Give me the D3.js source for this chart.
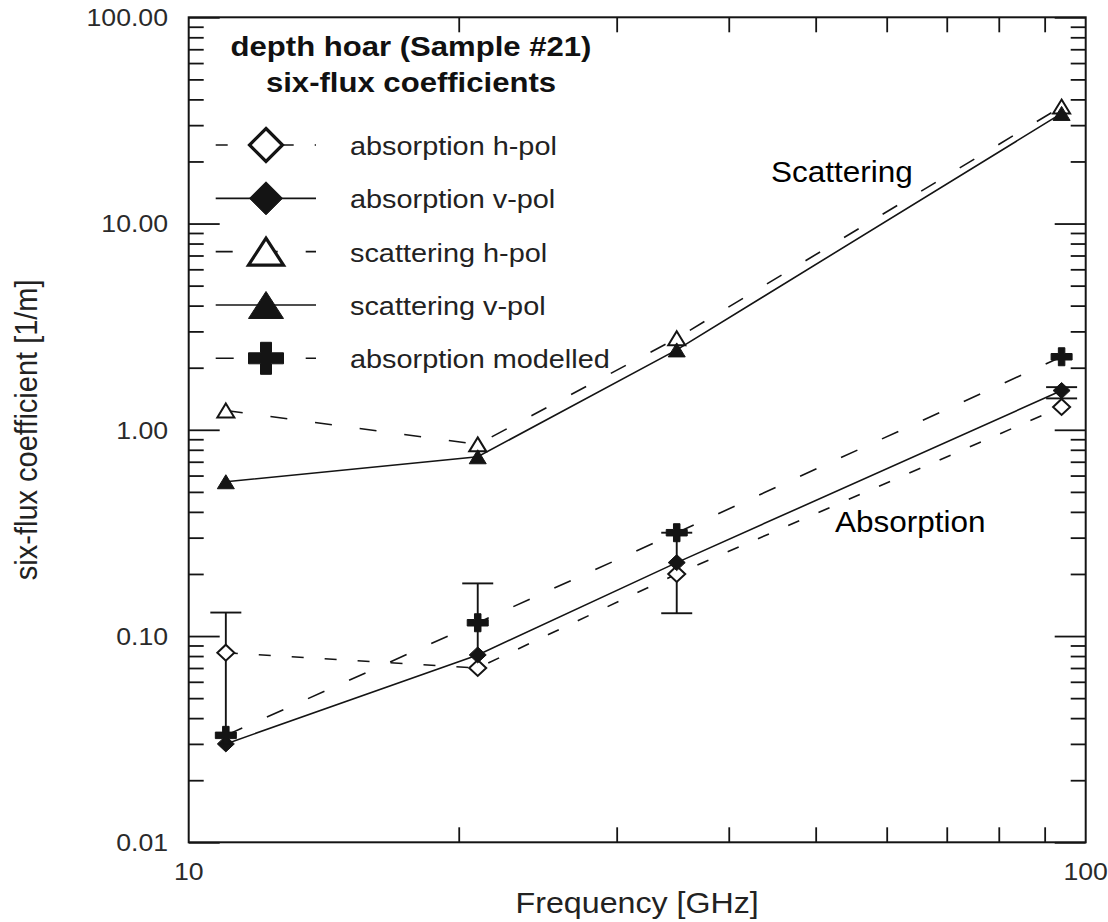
<!DOCTYPE html>
<html>
<head>
<meta charset="utf-8">
<script src="https://cdn.jsdelivr.net/npm/d3@7"></script>
<style>
  html, body { margin: 0; padding: 0; background: #fff; }
  svg { display: block; }
  text { font-family: "Liberation Sans", Arial, Helvetica, sans-serif; }
</style>
</head>
<body>
<svg id="chart" width="1108" height="922"></svg>
<script>
// Frequencies of the measurements [GHz]
const freq = [11, 21, 35, 94];

// Six-flux coefficients [1/m]
const absHpol   = [0.083, 0.070, 0.20, 1.29];
const absVpol   = [0.030, 0.081, 0.227, 1.55];
const scatHpol  = [1.24, 0.85, 2.78, 36.9];
const scatVpol  = [0.56, 0.74, 2.44, 34.2];
const absModel  = [0.033, 0.116, 0.317, 2.26];

// Uncertainty range of the measured absorption
const errLow  = [0.031, 0.081, 0.129, 1.42];
const errHigh = [0.130, 0.180, 0.317, 1.61];
const errLowCap = [false, false, true, true];

// Axis ticks and labels
const yMajor = [0.01, 0.1, 1, 10, 100];
const yTickLabels = ["0.01", "0.10", "1.00", "10.00", "100.00"];
const yMinorFactors = [2, 3, 4, 5, 6, 7, 8, 9];
const xMajor = [10, 100];
const xTickLabels = ["10", "100"];
const xMinor = [20, 30, 40, 50, 60, 70, 80, 90];

const seriesLabels = ["absorption h-pol", "absorption v-pol", "scattering h-pol",
                      "scattering v-pol", "absorption modelled"];

// ---------------------------------------------------------------------------
const svg = d3.select("#chart");
const ink = "#141414";
const plot = { left: 188.7, right: 1085.7, top: 17.3, bottom: 842.3 };
const SX = 1.11; // horizontal stretch of the plot lettering

const x = d3.scaleLog().domain([10, 100]).range([plot.left, plot.right]);
const y = d3.scaleLog().domain([0.01, 100]).range([plot.bottom, plot.top]);

const yMinor = [];
[0.01, 0.1, 1, 10].forEach(d => yMinorFactors.forEach(f => yMinor.push(d * f)));

// Text helper: stretched horizontally around its anchor point
function label(g, str, tx, ty, o = {}) {
  const t = g.append("text")
    .attr("transform", `translate(${tx},${ty}) scale(${o.sx ?? SX},1)` + (o.rotate ? ` rotate(${o.rotate})` : ""))
    .attr("text-anchor", o.anchor || "start")
    .attr("font-size", o.size || 24)
    .attr("font-weight", o.weight || "normal")
    .attr("fill", o.fill || "#1e1e1e")
    .text(str);
  return t;
}

// ---- ticks (all pointing into the plot) -----------------------------------
function tickAxis(axis, tx, ty) {
  const g = svg.append("g").attr("transform", `translate(${tx},${ty})`).call(axis);
  g.select(".domain").remove();
  g.selectAll(".tick line").attr("stroke", ink).attr("stroke-width", 1.8);
  g.selectAll(".tick text").remove();
  return g;
}
tickAxis(d3.axisLeft(y).tickValues(yMajor).tickSize(-31), plot.left, 0);
tickAxis(d3.axisLeft(y).tickValues(yMinor).tickSize(-15), plot.left, 0);
tickAxis(d3.axisRight(y).tickValues(yMajor).tickSize(-31), plot.right, 0);
tickAxis(d3.axisRight(y).tickValues(yMinor).tickSize(-15), plot.right, 0);
tickAxis(d3.axisBottom(x).tickValues(xMinor).tickSize(-15), 0, plot.bottom);
tickAxis(d3.axisTop(x).tickValues(xMinor).tickSize(-15), 0, plot.top);

// frame
svg.append("rect")
  .attr("x", plot.left).attr("y", plot.top)
  .attr("width", plot.right - plot.left).attr("height", plot.bottom - plot.top)
  .attr("fill", "none").attr("stroke", ink).attr("stroke-width", 2);

// tick labels
const labels = svg.append("g");
yMajor.forEach((v, i) => label(labels, yTickLabels[i], 168, y(v) + 8.7, { anchor: "end", size: 24, fill: "#2a2a2a" }));
xMajor.forEach((v, i) => label(labels, xTickLabels[i], x(v), 880, { anchor: "middle", size: 24, fill: "#2a2a2a" }));

// axis titles
label(labels, "Frequency [GHz]", (plot.left + plot.right) / 2, 913.3, { anchor: "middle", size: 29, fill: "#222" });
label(labels, "six-flux coefficient [1/m]", 37, (plot.top + plot.bottom) / 2,
      { anchor: "middle", size: 29, rotate: -90, fill: "#222" });

// ---- marker shapes ---------------------------------------------------------
function diamondPath(w, h) {
  return `M0,${-h / 2}L${w / 2},0L0,${h / 2}L${-w / 2},0Z`;
}
function trianglePath(w, h) {
  return `M0,${-h / 2}L${w / 2},${h / 2}L${-w / 2},${h / 2}Z`;
}
function plusPath(w, h, a) {
  const hw = w / 2, hh = h / 2, ha = a / 2;
  return `M${-ha},${-hh}H${ha}V${-ha}H${hw}V${ha}H${ha}V${hh}H${-ha}V${ha}H${-hw}V${-ha}H${-ha}Z`;
}

const series = [
  { key: "absH", values: absHpol,  dash: "12,21", shape: "diamond",  open: true },
  { key: "absV", values: absVpol,  dash: null,    shape: "diamond",  open: false },
  { key: "scaH", values: scatHpol, dash: "17,28", shape: "triangle", open: true },
  { key: "scaV", values: scatVpol, dash: null,    shape: "triangle", open: false },
  { key: "mod",  values: absModel, dash: "18,27", shape: "plus",     open: false }
];
series.forEach((s, i) => s.label = seriesLabels[i]);

function shapePath(s, big) {
  if (s.shape === "diamond") return big ? diamondPath(33, 33) : diamondPath(17, 16);
  if (s.shape === "triangle") return big ? trianglePath(35, 27) : trianglePath(17, 14);
  return big ? plusPath(35, 32, 11) : plusPath(21, 18, 6.5);
}

// ---- series lines ----------------------------------------------------------
const line = d3.line().x(d => x(d[0])).y(d => y(d[1]));
const lines = svg.append("g");
series.forEach(s => {
  lines.append("path")
    .datum(freq.map((f, i) => [f, s.values[i]]))
    .attr("d", line)
    .attr("fill", "none")
    .attr("stroke", ink)
    .attr("stroke-width", 1.6)
    .attr("stroke-dasharray", s.dash);
});

// ---- error bars ------------------------------------------------------------
const err = svg.append("g").attr("stroke", ink).attr("stroke-width", 1.9);
freq.forEach((f, i) => {
  const cx = x(f);
  err.append("line").attr("x1", cx).attr("x2", cx).attr("y1", y(errLow[i])).attr("y2", y(errHigh[i]));
  err.append("line").attr("x1", cx - 15.5).attr("x2", cx + 15.5).attr("y1", y(errHigh[i])).attr("y2", y(errHigh[i]));
  if (errLowCap[i]) {
    err.append("line").attr("x1", cx - 15.5).attr("x2", cx + 15.5).attr("y1", y(errLow[i])).attr("y2", y(errLow[i]));
  }
});

// ---- markers (open symbols first, filled ones on top) ----------------------
const markers = svg.append("g");
const order = [series[0], series[2], series[1], series[3], series[4]];
order.forEach(s => {
  markers.selectAll(null)
    .data(freq.map((f, i) => [f, s.values[i]]))
    .join("path")
    .attr("transform", d => `translate(${x(d[0])},${y(d[1])})`)
    .attr("d", shapePath(s, false))
    .attr("fill", s.open ? "#fff" : ink)
    .attr("stroke", ink)
    .attr("stroke-width", s.open ? 2 : 1)
    .attr("stroke-linejoin", "miter");
});

// ---- legend ----------------------------------------------------------------
const legend = svg.append("g");
label(legend, "depth hoar (Sample #21)", 411, 56, { anchor: "middle", size: 28, weight: "bold", fill: "#111" });
label(legend, "six-flux coefficients", 411, 91.7, { anchor: "middle", size: 28, weight: "bold", fill: "#111" });

const rowY = d3.scaleLinear().domain([0, 4]).range([145, 358.3]);
series.forEach((s, i) => {
  const cy = rowY(i);
  legend.append("line")
    .attr("x1", 215.7).attr("x2", 316).attr("y1", cy).attr("y2", cy)
    .attr("stroke", ink).attr("stroke-width", 1.6)
    .attr("stroke-dasharray", s.dash);
  legend.append("path")
    .attr("transform", `translate(266,${cy})`)
    .attr("d", shapePath(s, true))
    .attr("fill", s.open ? "#fff" : ink)
    .attr("stroke", ink)
    .attr("stroke-width", s.open ? 3.2 : 1);
  label(legend, s.label, 350, cy + 10, { size: 26, fill: "#222" });
});

// ---- annotations -----------------------------------------------------------
label(svg, "Scattering", 771, 181.7, { size: 30, sx: 1.05, fill: "#000" });
label(svg, "Absorption", 835, 531.7, { size: 30, sx: 1.05, fill: "#000" });
</script>
</body>
</html>
